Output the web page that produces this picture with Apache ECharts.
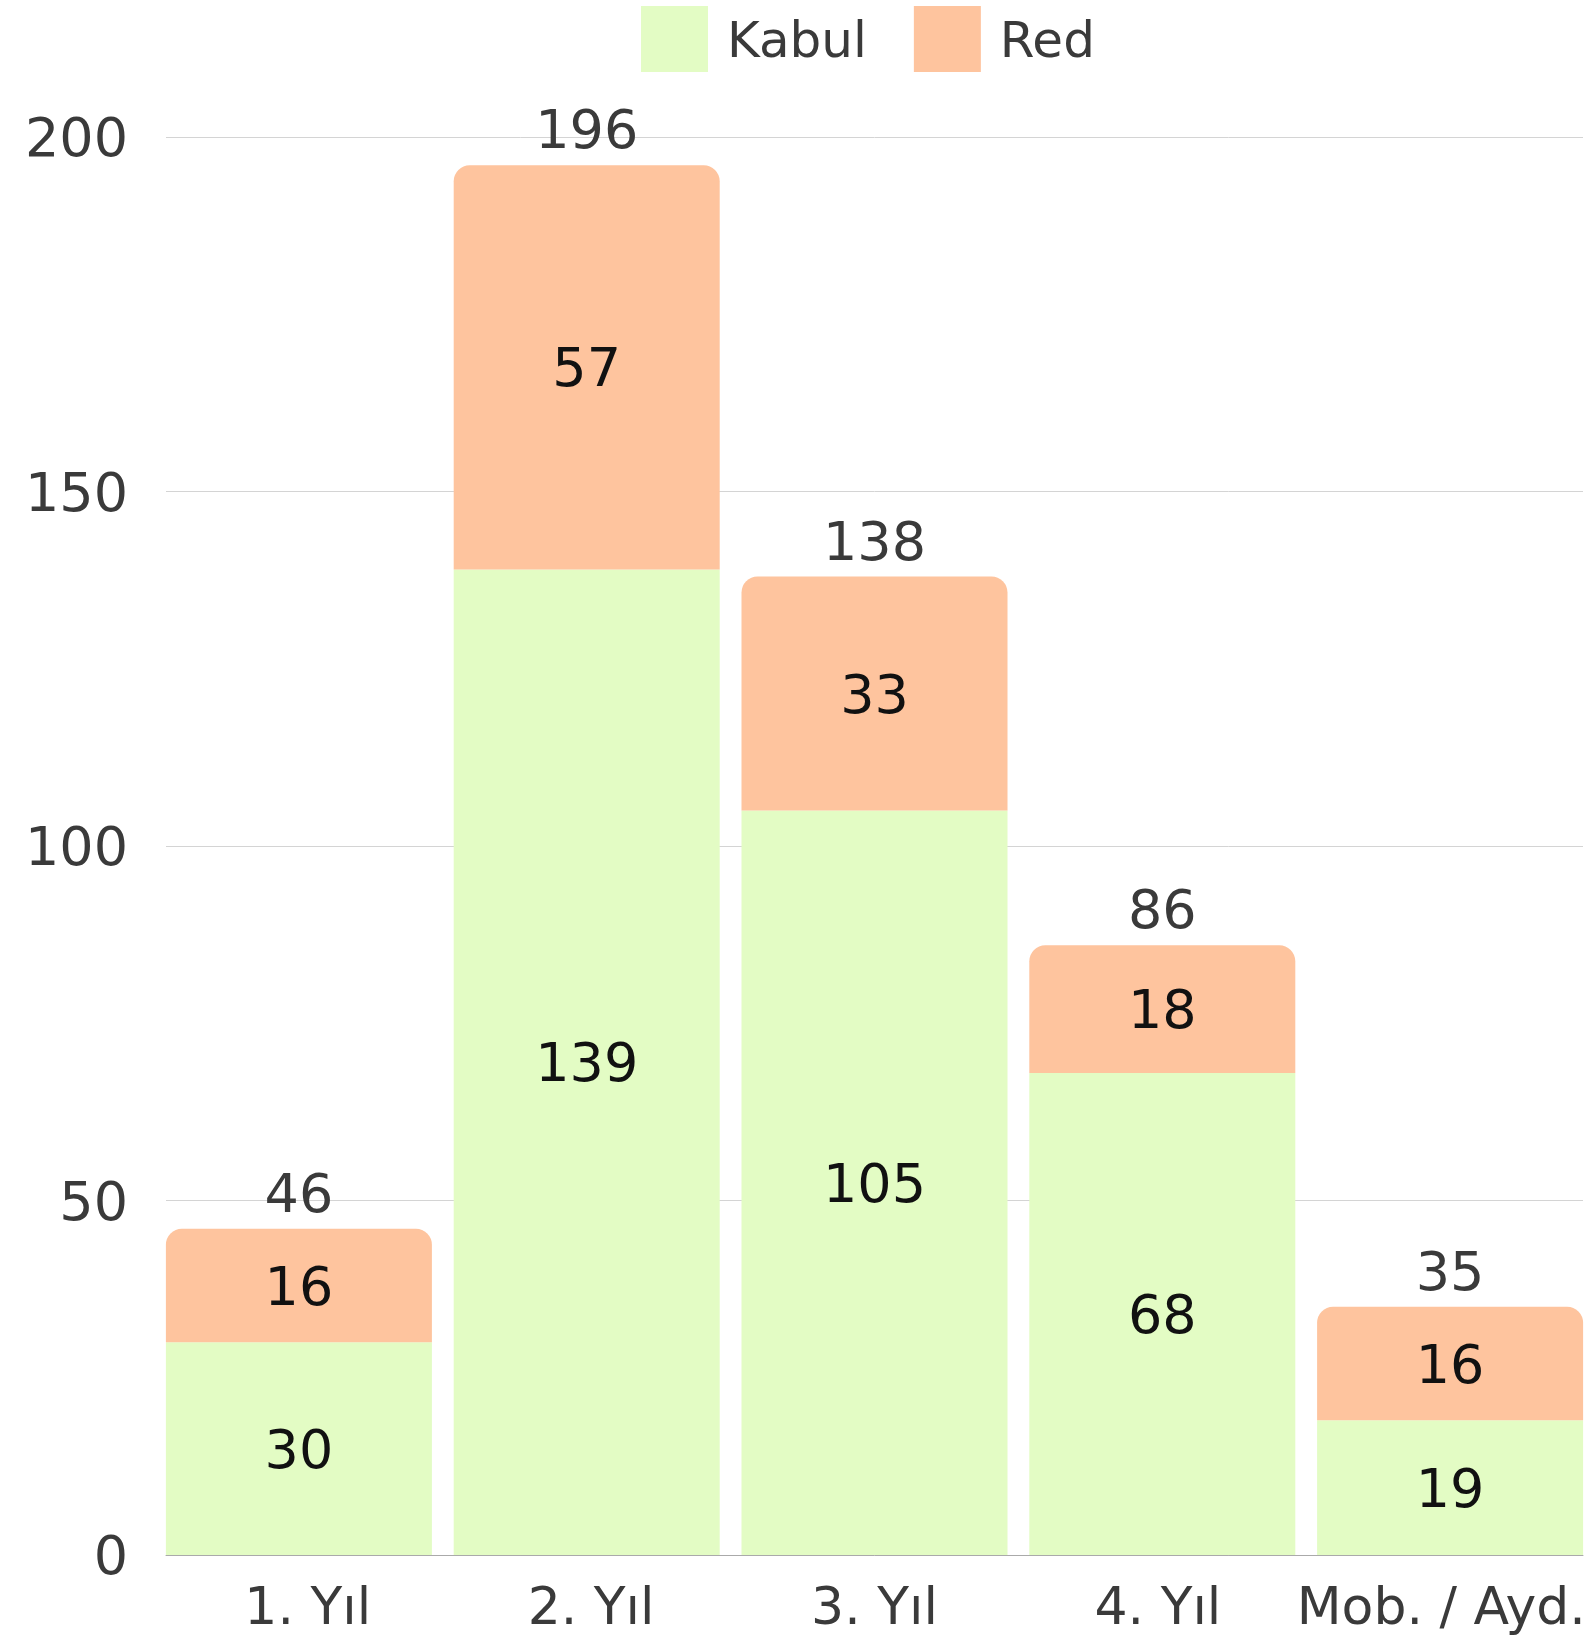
<!DOCTYPE html>
<html>
<head>
<meta charset="utf-8">
<style>
  html, body { margin: 0; padding: 0; background: #fff; }
  #chart { width: 1590px; height: 1641px; }
</style>
<script src="https://cdn.jsdelivr.net/npm/echarts@6/dist/echarts.min.js"></script>
</head>
<body>
<div id="chart"></div>
<script>
// values
const categories = ['1. Yıl', '2. Yıl', '3. Yıl', '4. Yıl', 'Mob. / Ayd.'];
const kabul = [30, 139, 105, 68, 19];
const red = [16, 57, 33, 18, 16];
const totals = kabul.map((v, i) => v + red[i]);
const yTicks = { min: 0, max: 200, interval: 50 };

const FONT = '"DejaVu Sans", sans-serif';
const chart = echarts.init(document.getElementById('chart'), null, { renderer: 'canvas' });

// grid 0 carries the visible axes; grid 1 is a little wider so the outer
// bars sit flush with the plot edges, like the reference.
const insideLabel = {
  show: true, position: 'inside', offset: [0, 5],
  fontSize: 54, color: '#111', fontFamily: FONT
};

chart.setOption({
  animation: false,
  textStyle: { fontFamily: FONT },
  legend: {
    top: 6,
    left: 641,
    padding: 0,
    itemWidth: 67,
    itemHeight: 66,
    itemGap: 47,
    icon: 'rect',
    formatter: (name) => '{t|' + name + '}',
    textStyle: {
      fontSize: 50, color: '#3a3a3a', fontFamily: FONT,
      rich: { t: { fontSize: 50, color: '#3a3a3a', fontFamily: FONT, padding: [10, 0, 0, 14] } }
    },
    data: ['Kabul', 'Red']
  },
  grid: [
    { left: 166, right: 7, top: 137, bottom: 86, outerBoundsMode: 'none', containLabel: false },
    { left: 155, right: -4, top: 137, bottom: 86, outerBoundsMode: 'none', containLabel: false }
  ],
  xAxis: [
    {
      type: 'category',
      gridIndex: 0,
      data: categories,
      axisTick: { show: false },
      axisLine: { lineStyle: { color: '#aaaaaa', width: 1 } },
      axisLabel: { interval: 0, fontSize: 52, color: '#3a3a3a', margin: 29, fontFamily: FONT }
    },
    {
      type: 'category',
      gridIndex: 1,
      data: categories,
      show: false
    }
  ],
  yAxis: [
    {
      type: 'value',
      gridIndex: 0,
      min: yTicks.min,
      max: yTicks.max,
      interval: yTicks.interval,
      axisLine: { show: false },
      axisTick: { show: false },
      axisLabel: {
        fontSize: 54, color: '#3a3a3a', margin: 38, fontFamily: FONT,
        formatter: (v) => '{v|' + v + '}',
        rich: { v: { fontSize: 54, color: '#3a3a3a', fontFamily: FONT, padding: [10, 0, 0, 0] } }
      },
      splitLine: { lineStyle: { color: '#d4d4d4', width: 1 } }
    },
    {
      type: 'value',
      gridIndex: 1,
      min: yTicks.min,
      max: yTicks.max,
      interval: yTicks.interval,
      show: false,
      splitLine: { show: false }
    }
  ],
  series: [
    {
      name: 'Kabul',
      type: 'bar',
      xAxisIndex: 1,
      yAxisIndex: 1,
      stack: 'total',
      barWidth: 266,
      data: kabul,
      itemStyle: { color: '#e3fcc4' },
      label: insideLabel
    },
    {
      name: 'Red',
      type: 'bar',
      xAxisIndex: 1,
      yAxisIndex: 1,
      stack: 'total',
      barWidth: 266,
      data: red,
      itemStyle: { color: '#fec49e', borderRadius: [16, 16, 0, 0] },
      label: insideLabel
    },
    {
      name: 'Toplam',
      type: 'bar',
      xAxisIndex: 1,
      yAxisIndex: 1,
      stack: 'total',
      barWidth: 266,
      data: totals.map(() => 0),
      itemStyle: { color: 'transparent' },
      label: {
        show: true,
        position: 'top',
        distance: 4,
        fontSize: 54,
        color: '#3a3a3a',
        fontFamily: FONT,
        formatter: (p) => totals[p.dataIndex]
      },
      tooltip: { show: false }
    }
  ]
});
</script>
</body>
</html>
